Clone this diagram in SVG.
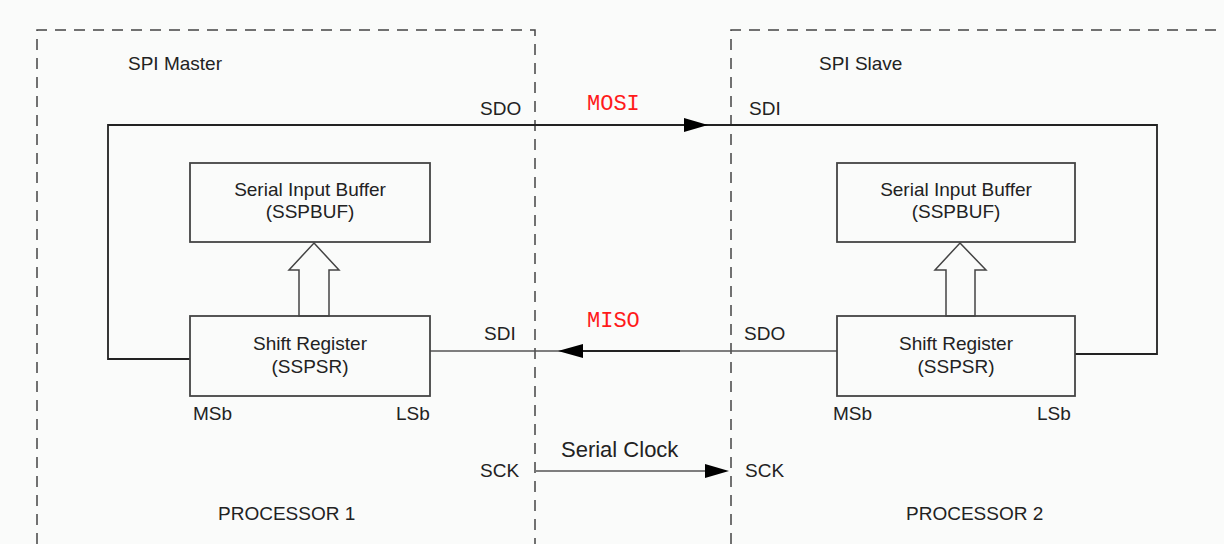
<svg xmlns="http://www.w3.org/2000/svg" width="1224" height="544" viewBox="0 0 1224 544">
<style>
.t{font-family:"Liberation Sans",Arial,sans-serif;font-size:19px;fill:#222}
.c{text-anchor:middle}
.m{font-family:"Liberation Mono","DejaVu Sans Mono",monospace;font-size:22px;fill:#ff1a1a}
.dash{fill:none;stroke:#444;stroke-width:1.5;stroke-dasharray:11 8}
.box{fill:none;stroke:#444;stroke-width:1.8}
.w{fill:none;stroke:#222;stroke-width:1.8}
.g{fill:none;stroke:#555;stroke-width:1.5}
.ah{fill:#000}
.hol{fill:#fafbfa;stroke:#444;stroke-width:1.5}
</style>
<rect width="1224" height="544" fill="#fafbfa"/>
<g id="processor1">
<path class="dash" d="M37 544 V30 H535 V544"/>
<text class="t" x="128" y="70">SPI Master</text>
<text class="t" x="218" y="520">PROCESSOR 1</text>
</g>
<g id="processor2">
<path class="dash" d="M731 544 V30 H1224"/>
<text class="t" x="819" y="70">SPI Slave</text>
<text class="t" x="906" y="520">PROCESSOR 2</text>
</g>
<g id="connectors">
<path class="w" d="M190 359 H108 V125 H1157 V354 H1075"/>
<polygon class="ah" points="708,125 684,118 684,132"/>
<path class="g" d="M430 351 H837"/>
<path class="w" d="M580 351 H680"/>
<polygon class="ah" points="558,351 583,344 583,358"/>
<path class="g" d="M536 471 H712"/>
<polygon class="ah" points="729,471 705,464 705,478"/>
<polygon class="hol" points="314,243 339,270 329,270 329,316 299,316 299,270 289,270"/>
<polygon class="hol" points="960,243 986,270 975,270 975,316 946,316 946,270 935,270"/>
</g>
<g id="master-buffer">
<rect class="box" x="190" y="163" width="240" height="79"/>
<text class="t c" x="310" y="196">Serial Input Buffer</text>
<text class="t c" x="310" y="218">(SSPBUF)</text>
</g>
<g id="master-shift">
<rect class="box" x="190" y="316" width="240" height="80"/>
<text class="t c" x="310" y="350">Shift Register</text>
<text class="t c" x="310" y="373">(SSPSR)</text>
<text class="t" x="193" y="420">MSb</text>
<text class="t" x="396" y="420">LSb</text>
</g>
<g id="slave-buffer">
<rect class="box" x="837" y="163" width="238" height="79"/>
<text class="t c" x="956" y="196">Serial Input Buffer</text>
<text class="t c" x="956" y="218">(SSPBUF)</text>
</g>
<g id="slave-shift">
<rect class="box" x="837" y="316" width="238" height="80"/>
<text class="t c" x="956" y="350">Shift Register</text>
<text class="t c" x="956" y="373">(SSPSR)</text>
<text class="t" x="833" y="420">MSb</text>
<text class="t" x="1037" y="420">LSb</text>
</g>
<g id="labels">
<text class="t" x="480" y="115">SDO</text>
<text class="t" x="749" y="115">SDI</text>
<text class="m" x="587" y="110">MOSI</text>
<text class="t" x="484" y="340">SDI</text>
<text class="t" x="744" y="340">SDO</text>
<text class="m" x="587" y="327">MISO</text>
<text class="t" x="480" y="477">SCK</text>
<text class="t" x="745" y="477">SCK</text>
<text class="t" x="561" y="457" style="font-size:22px">Serial Clock</text>
</g>
</svg>
